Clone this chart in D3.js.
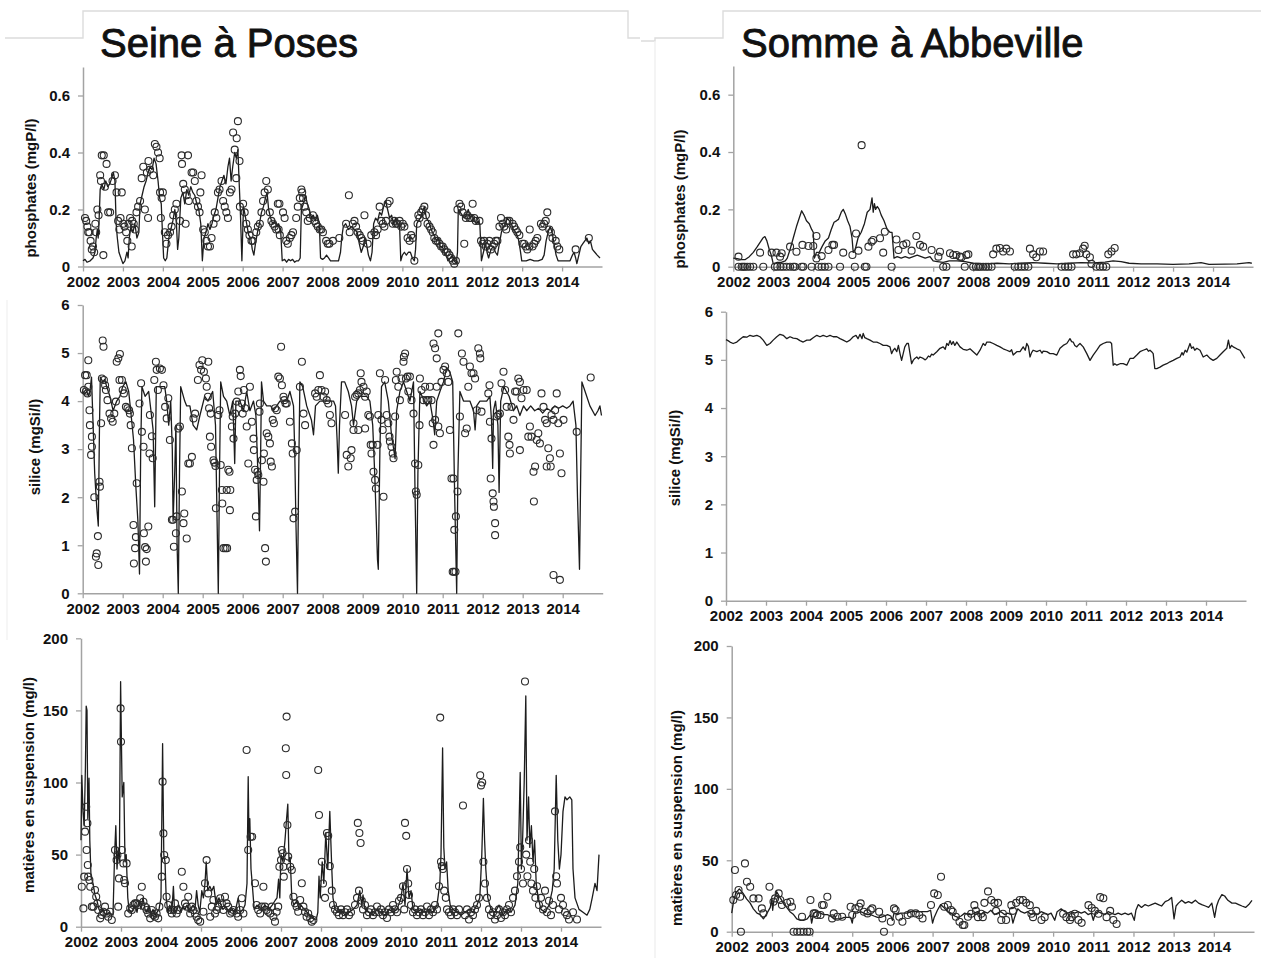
<!DOCTYPE html>
<html>
<head>
<meta charset="utf-8">
<script src="https://cdn.jsdelivr.net/npm/d3@7"></script>
<style>
  body { margin: 0; background: #fff; }
  svg { display: block; }
</style>
</head>
<body>
<svg id="chart" width="1261" height="958"></svg>
<script>
// ---------- tick values ----------
const yearTicks = [2002, 2003, 2004, 2005, 2006, 2007, 2008, 2009, 2010, 2011, 2012, 2013, 2014];
const phosTicks = [0, 0.2, 0.4, 0.6];
const siliceTicks = [0, 1, 2, 3, 4, 5, 6];
const mesTicks = [0, 50, 100, 150, 200];

const stationNames = ["Seine à Poses", "Somme à Abbeville"];
const variableLabels = ["phosphates (mgP/l)", "silice (mgSi/l)", "matières en suspension (mg/l)"];

// ---------- Seine à Poses : phosphates ----------
// simulated (line), [decimal year, mgP/l]
const seinePhosSim = [[2002.0,0.02],[2002.05,0.025],[2002.1,0.015],[2002.18,0.02],[2002.25,0.03],[2002.3,0.05],[2002.33,0.1],[2002.36,0.13],[2002.38,0.1],[2002.4,0.15],[2002.43,0.27],[2002.47,0.29],[2002.52,0.27],[2002.57,0.3],[2002.62,0.28],[2002.67,0.29],[2002.72,0.31],[2002.76,0.33],[2002.8,0.3],[2002.83,0.15],[2002.86,0.1],[2002.9,0.05],[2002.95,0.03],[2003.0,0.01],[2003.05,0.02],[2003.1,0.05],[2003.13,0.03],[2003.16,0.1],[2003.2,0.14],[2003.25,0.12],[2003.3,0.15],[2003.35,0.1],[2003.4,0.12],[2003.43,0.22],[2003.48,0.25],[2003.53,0.28],[2003.58,0.3],[2003.63,0.33],[2003.68,0.35],[2003.73,0.34],[2003.78,0.38],[2003.83,0.36],[2003.88,0.3],[2003.92,0.24],[2003.96,0.22],[2003.99,0.12],[2004.02,0.03],[2004.06,0.02],[2004.1,0.03],[2004.15,0.1],[2004.2,0.13],[2004.25,0.16],[2004.3,0.2],[2004.34,0.15],[2004.37,0.06],[2004.4,0.1],[2004.45,0.24],[2004.5,0.26],[2004.55,0.22],[2004.6,0.27],[2004.65,0.25],[2004.7,0.28],[2004.75,0.26],[2004.8,0.25],[2004.85,0.22],[2004.9,0.2],[2004.95,0.15],[2004.99,0.02],[2005.03,0.1],[2005.08,0.12],[2005.13,0.15],[2005.18,0.13],[2005.23,0.15],[2005.28,0.18],[2005.33,0.2],[2005.38,0.24],[2005.43,0.28],[2005.48,0.3],[2005.53,0.32],[2005.58,0.29],[2005.63,0.35],[2005.67,0.38],[2005.71,0.3],[2005.75,0.35],[2005.8,0.4],[2005.84,0.38],[2005.88,0.41],[2005.91,0.3],[2005.94,0.2],[2005.98,0.02],[2006.02,0.21],[2006.06,0.18],[2006.1,0.15],[2006.15,0.11],[2006.2,0.1],[2006.24,0.06],[2006.28,0.04],[2006.32,0.08],[2006.37,0.12],[2006.42,0.15],[2006.47,0.19],[2006.52,0.21],[2006.57,0.24],[2006.61,0.26],[2006.65,0.2],[2006.7,0.17],[2006.75,0.15],[2006.8,0.16],[2006.85,0.14],[2006.9,0.15],[2006.95,0.13],[2006.99,0.02],[2007.05,0.025],[2007.1,0.015],[2007.15,0.025],[2007.2,0.02],[2007.25,0.025],[2007.3,0.015],[2007.35,0.02],[2007.4,0.02],[2007.44,0.03],[2007.47,0.2],[2007.52,0.22],[2007.57,0.25],[2007.62,0.22],[2007.67,0.2],[2007.72,0.17],[2007.77,0.18],[2007.82,0.16],[2007.87,0.18],[2007.92,0.15],[2007.95,0.03],[2008.0,0.025],[2008.05,0.03],[2008.1,0.04],[2008.15,0.03],[2008.2,0.02],[2008.3,0.02],[2008.4,0.02],[2008.45,0.05],[2008.48,0.1],[2008.52,0.14],[2008.58,0.15],[2008.65,0.13],[2008.72,0.14],[2008.8,0.13],[2008.87,0.12],[2008.92,0.08],[2008.97,0.05],[2009.02,0.07],[2009.06,0.1],[2009.1,0.08],[2009.15,0.04],[2009.2,0.02],[2009.24,0.05],[2009.28,0.15],[2009.33,0.17],[2009.38,0.16],[2009.43,0.19],[2009.48,0.18],[2009.53,0.21],[2009.58,0.23],[2009.63,0.2],[2009.68,0.17],[2009.73,0.18],[2009.78,0.15],[2009.83,0.17],[2009.88,0.15],[2009.93,0.14],[2009.96,0.02],[2010.0,0.04],[2010.05,0.05],[2010.1,0.04],[2010.15,0.05],[2010.2,0.05],[2010.25,0.03],[2010.3,0.02],[2010.33,0.06],[2010.36,0.15],[2010.4,0.16],[2010.45,0.17],[2010.5,0.19],[2010.55,0.21],[2010.6,0.17],[2010.65,0.16],[2010.7,0.14],[2010.75,0.12],[2010.8,0.11],[2010.85,0.09],[2010.9,0.1],[2010.95,0.07],[2011.0,0.07],[2011.05,0.05],[2011.1,0.04],[2011.14,0.02],[2011.2,0.03],[2011.25,0.04],[2011.3,0.02],[2011.35,0.01],[2011.38,0.05],[2011.4,0.2],[2011.45,0.19],[2011.5,0.18],[2011.55,0.17],[2011.6,0.18],[2011.65,0.2],[2011.7,0.17],[2011.75,0.18],[2011.8,0.16],[2011.85,0.15],[2011.9,0.16],[2011.94,0.15],[2011.98,0.02],[2012.03,0.05],[2012.08,0.08],[2012.12,0.05],[2012.16,0.03],[2012.22,0.06],[2012.28,0.07],[2012.33,0.05],[2012.38,0.04],[2012.43,0.08],[2012.48,0.12],[2012.53,0.14],[2012.58,0.15],[2012.63,0.17],[2012.68,0.16],[2012.73,0.15],[2012.78,0.13],[2012.84,0.12],[2012.9,0.1],[2012.95,0.06],[2012.99,0.02],[2013.1,0.02],[2013.2,0.025],[2013.3,0.02],[2013.4,0.02],[2013.5,0.025],[2013.55,0.04],[2013.6,0.09],[2013.65,0.12],[2013.7,0.14],[2013.75,0.12],[2013.8,0.08],[2013.85,0.04],[2013.9,0.02],[2014.0,0.02],[2014.1,0.02],[2014.2,0.02],[2014.26,0.04],[2014.3,0.05],[2014.34,0.03],[2014.37,0.01],[2014.42,0.04],[2014.47,0.07],[2014.52,0.08],[2014.57,0.09],[2014.62,0.1],[2014.67,0.08],[2014.71,0.09],[2014.76,0.06],[2014.82,0.05],[2014.88,0.04],[2014.95,0.03]];

// measured (circles)
const seinePhosObs = [[2002.05,0.17],[2002.08,0.16],[2002.11,0.14],[2002.13,0.12],[2002.16,0.12],[2002.19,0.09],[2002.22,0.06],[2002.25,0.07],[2002.28,0.05],[2002.31,0.15],[2002.33,0.12],[2002.36,0.2],[2002.39,0.18],[2002.43,0.32],[2002.45,0.30],[2002.47,0.39],[2002.51,0.04],[2002.52,0.39],[2002.55,0.28],[2002.59,0.36],[2002.63,0.19],[2002.68,0.19],[2002.74,0.30],[2002.8,0.32],[2002.84,0.26],[2002.88,0.16],[2002.91,0.13],[2002.94,0.17],[2002.97,0.26],[2003.01,0.15],[2003.04,0.14],[2003.08,0.12],[2003.11,0.09],[2003.14,0.15],[2003.18,0.17],[2003.22,0.07],[2003.23,0.16],[2003.27,0.15],[2003.3,0.13],[2003.34,0.19],[2003.38,0.21],[2003.43,0.23],[2003.47,0.31],[2003.51,0.35],[2003.55,0.2],[2003.6,0.33],[2003.63,0.17],[2003.64,0.37],[2003.68,0.34],[2003.76,0.32],[2003.8,0.43],[2003.84,0.42],[2003.88,0.4],[2003.92,0.38],[2003.93,0.26],[2003.95,0.17],[2003.97,0.24],[2004.0,0.26],[2004.05,0.12],[2004.09,0.08],[2004.13,0.11],[2004.18,0.12],[2004.22,0.14],[2004.26,0.18],[2004.3,0.2],[2004.34,0.22],[2004.43,0.16],[2004.47,0.39],[2004.48,0.36],[2004.51,0.29],[2004.55,0.27],[2004.57,0.15],[2004.6,0.25],[2004.63,0.39],[2004.65,0.23],[2004.72,0.33],[2004.76,0.33],[2004.8,0.3],[2004.84,0.23],[2004.88,0.21],[2004.92,0.19],[2004.94,0.26],[2004.97,0.32],[2005.01,0.13],[2005.05,0.12],[2005.09,0.09],[2005.13,0.07],[2005.18,0.07],[2005.22,0.1],[2005.27,0.15],[2005.3,0.19],[2005.34,0.17],[2005.38,0.26],[2005.42,0.27],[2005.47,0.3],[2005.51,0.23],[2005.55,0.21],[2005.59,0.19],[2005.63,0.17],[2005.68,0.26],[2005.72,0.27],[2005.76,0.47],[2005.8,0.41],[2005.84,0.31],[2005.85,0.45],[2005.88,0.51],[2005.92,0.37],[2005.93,0.21],[2006.01,0.22],[2006.05,0.19],[2006.09,0.15],[2006.13,0.13],[2006.17,0.11],[2006.22,0.09],[2006.25,0.09],[2006.34,0.12],[2006.38,0.14],[2006.43,0.15],[2006.47,0.19],[2006.51,0.23],[2006.55,0.26],[2006.59,0.3],[2006.63,0.27],[2006.68,0.19],[2006.72,0.16],[2006.76,0.15],[2006.8,0.14],[2006.84,0.13],[2006.88,0.22],[2006.9,0.13],[2006.93,0.11],[2006.92,0.22],[2007.01,0.19],[2007.05,0.17],[2007.09,0.09],[2007.13,0.08],[2007.18,0.1],[2007.22,0.11],[2007.26,0.12],[2007.34,0.17],[2007.38,0.21],[2007.43,0.24],[2007.47,0.27],[2007.49,0.26],[2007.51,0.24],[2007.55,0.21],[2007.59,0.19],[2007.63,0.16],[2007.68,0.17],[2007.76,0.18],[2007.8,0.16],[2007.84,0.15],[2007.88,0.14],[2007.93,0.13],[2007.97,0.13],[2008.01,0.12],[2008.09,0.09],[2008.13,0.08],[2008.17,0.08],[2008.26,0.09],[2008.42,0.1],[2008.59,0.15],[2008.66,0.25],[2008.68,0.12],[2008.76,0.15],[2008.8,0.16],[2008.84,0.14],[2008.88,0.12],[2008.93,0.11],[2008.97,0.1],[2009.05,0.18],[2009.01,0.09],[2009.13,0.08],[2009.22,0.11],[2009.3,0.12],[2009.34,0.11],[2009.38,0.13],[2009.43,0.21],[2009.47,0.16],[2009.51,0.15],[2009.55,0.14],[2009.59,0.16],[2009.63,0.22],[2009.68,0.23],[2009.76,0.15],[2009.8,0.16],[2009.84,0.15],[2009.88,0.15],[2009.93,0.16],[2009.97,0.14],[2010.01,0.15],[2010.05,0.14],[2010.13,0.1],[2010.18,0.09],[2010.22,0.11],[2010.26,0.1],[2010.3,0.02],[2010.38,0.15],[2010.4,0.18],[2010.43,0.17],[2010.47,0.19],[2010.51,0.2],[2010.55,0.21],[2010.59,0.18],[2010.63,0.15],[2010.68,0.14],[2010.72,0.13],[2010.76,0.12],[2010.8,0.1],[2010.84,0.09],[2010.88,0.09],[2010.93,0.08],[2010.97,0.07],[2011.01,0.07],[2011.05,0.06],[2011.09,0.05],[2011.13,0.05],[2011.18,0.04],[2011.22,0.03],[2011.26,0.02],[2011.3,0.01],[2011.34,0.02],[2011.38,0.2],[2011.43,0.22],[2011.47,0.21],[2011.51,0.19],[2011.55,0.08],[2011.59,0.17],[2011.63,0.18],[2011.68,0.17],[2011.72,0.17],[2011.76,0.22],[2011.8,0.17],[2011.84,0.16],[2011.93,0.16],[2011.97,0.09],[2012.01,0.08],[2012.05,0.09],[2012.09,0.07],[2012.13,0.08],[2012.18,0.09],[2012.22,0.06],[2012.26,0.07],[2012.3,0.08],[2012.34,0.09],[2012.38,0.09],[2012.43,0.14],[2012.47,0.17],[2012.51,0.15],[2012.55,0.14],[2012.6,0.13],[2012.63,0.16],[2012.68,0.16],[2012.76,0.15],[2012.8,0.14],[2012.84,0.13],[2012.88,0.12],[2012.93,0.11],[2013.01,0.08],[2013.05,0.08],[2013.09,0.07],[2013.13,0.06],[2013.18,0.07],[2013.19,0.13],[2013.26,0.07],[2013.3,0.08],[2013.34,0.09],[2013.38,0.1],[2013.47,0.15],[2013.51,0.14],[2013.55,0.15],[2013.59,0.16],[2013.63,0.19],[2013.68,0.13],[2013.72,0.12],[2013.76,0.1],[2013.84,0.09],[2013.88,0.07],[2013.93,0.06],[2014.34,0.06],[2014.67,0.1]];

// ---------- Seine à Poses : silice ----------
const seineSiSim = [[2002.0,4.2],[2002.05,4.15],[2002.1,4.2],[2002.15,4.1],[2002.18,4.2],[2002.22,4.5],[2002.26,3.5],[2002.3,2.5],[2002.35,1.8],[2002.39,1.4],[2002.42,3.5],[2002.44,4.5],[2002.5,4.4],[2002.55,4.45],[2002.6,4.3],[2002.68,4.1],[2002.76,3.8],[2002.85,4.0],[2002.93,4.1],[2003.0,4.3],[2003.08,4.4],[2003.15,4.2],[2003.2,3.8],[2003.27,3.2],[2003.33,2.2],[2003.38,1.5],[2003.42,0.4],[2003.45,3.0],[2003.48,4.3],[2003.56,4.1],[2003.65,4.2],[2003.72,3.7],[2003.76,3.4],[2003.8,1.8],[2003.84,4.3],[2003.92,4.3],[2004.0,4.3],[2004.05,4.3],[2004.1,4.0],[2004.15,3.5],[2004.2,4.0],[2004.24,3.0],[2004.26,1.5],[2004.3,2.5],[2004.33,3.5],[2004.36,1.0],[2004.39,0.0],[2004.42,2.5],[2004.45,4.3],[2004.55,4.0],[2004.6,3.9],[2004.68,3.9],[2004.76,3.5],[2004.85,3.4],[2004.93,3.7],[2005.05,4.1],[2005.13,4.0],[2005.25,4.2],[2005.32,3.5],[2005.36,1.5],[2005.39,0.0],[2005.42,2.5],[2005.45,4.4],[2005.52,4.1],[2005.6,4.0],[2005.68,3.7],[2005.75,4.0],[2005.78,3.3],[2005.8,2.7],[2005.83,4.0],[2005.93,4.0],[2006.02,3.8],[2006.1,4.2],[2006.18,3.8],[2006.27,4.0],[2006.33,3.7],[2006.38,2.5],[2006.42,1.3],[2006.45,3.0],[2006.47,4.4],[2006.52,4.0],[2006.6,3.9],[2006.7,3.9],[2006.77,3.8],[2006.85,3.9],[2006.93,4.0],[2007.1,4.0],[2007.18,4.2],[2007.27,3.9],[2007.3,3.0],[2007.33,1.5],[2007.37,0.0],[2007.4,2.5],[2007.43,4.4],[2007.5,4.3],[2007.6,3.9],[2007.72,3.6],[2007.77,3.3],[2007.82,3.9],[2007.93,4.0],[2008.1,4.0],[2008.27,4.0],[2008.32,3.9],[2008.36,3.2],[2008.39,2.5],[2008.42,3.5],[2008.47,4.4],[2008.55,4.4],[2008.64,4.2],[2008.72,3.9],[2008.77,3.5],[2008.85,4.0],[2008.93,4.1],[2009.1,4.1],[2009.18,4.0],[2009.25,3.5],[2009.3,2.5],[2009.34,1.5],[2009.37,0.7],[2009.39,0.5],[2009.43,3.0],[2009.47,4.3],[2009.55,4.4],[2009.64,4.0],[2009.72,3.3],[2009.81,2.8],[2009.85,3.8],[2009.93,4.2],[2010.02,4.4],[2010.1,4.2],[2010.18,4.0],[2010.27,4.4],[2010.31,2.0],[2010.35,0.0],[2010.38,2.5],[2010.43,4.2],[2010.6,3.9],[2010.68,4.0],[2010.76,3.6],[2010.8,3.3],[2010.85,4.0],[2010.93,4.2],[2011.02,4.4],[2011.1,4.7],[2011.18,4.6],[2011.25,4.4],[2011.3,2.0],[2011.35,0.0],[2011.38,2.5],[2011.43,4.2],[2011.52,4.0],[2011.68,4.0],[2011.77,3.8],[2011.81,3.4],[2011.85,3.9],[2011.93,4.0],[2012.1,4.0],[2012.18,4.1],[2012.22,3.6],[2012.25,2.6],[2012.27,3.8],[2012.32,4.0],[2012.38,3.5],[2012.41,2.1],[2012.45,4.0],[2012.53,4.3],[2012.66,4.1],[2012.77,3.8],[2012.85,3.9],[2012.93,3.7],[2013.02,3.9],[2013.1,3.8],[2013.2,3.9],[2013.3,3.8],[2013.4,3.85],[2013.5,3.75],[2013.6,3.85],[2013.7,3.8],[2013.8,3.9],[2013.9,3.85],[2014.0,3.9],[2014.1,3.85],[2014.18,3.9],[2014.26,4.0],[2014.33,3.5],[2014.37,2.0],[2014.42,0.5],[2014.45,2.5],[2014.48,4.4],[2014.56,4.2],[2014.68,3.9],[2014.81,3.7],[2014.88,3.8],[2014.93,3.9],[2014.97,3.7]];

const seineSiObs = [[2002.06,4.54],[2002.03,4.23],[2002.08,4.2],[2002.12,4.16],[2002.14,4.3],[2002.1,4.54],[2002.14,4.85],[2002.17,3.81],[2002.18,3.5],[2002.23,3.26],[2002.23,3.05],[2002.21,2.88],[2002.29,2.0],[2002.38,1.19],[2002.33,0.76],[2002.35,0.83],[2002.39,0.59],[2002.42,2.32],[2002.43,2.22],[2002.46,3.54],[2002.48,4.47],[2002.5,5.26],[2002.52,5.13],[2002.53,4.44],[2002.56,4.33],[2002.58,4.23],[2002.62,4.02],[2002.67,3.74],[2002.71,3.64],[2002.75,3.57],[2002.79,3.74],[2002.83,3.99],[2002.85,4.82],[2002.89,4.89],[2002.93,4.98],[2002.92,4.44],[2002.98,4.44],[2003.0,4.23],[2003.03,4.16],[2003.08,3.88],[2003.12,3.85],[2003.16,3.81],[2003.18,3.74],[2003.2,3.5],[2003.23,3.02],[2003.27,1.42],[2003.28,0.62],[2003.31,0.94],[2003.33,1.17],[2003.35,2.29],[2003.42,3.95],[2003.46,4.37],[2003.48,3.36],[2003.52,3.05],[2003.53,1.25],[2003.56,0.96],[2003.58,0.66],[2003.6,0.92],[2003.64,1.39],[2003.67,2.91],[2003.68,3.71],[2003.73,3.27],[2003.75,2.81],[2003.79,4.44],[2003.83,4.82],[2003.85,4.65],[2003.88,4.23],[2003.93,4.68],[2003.98,4.65],[2004.02,4.33],[2004.06,3.88],[2004.1,3.64],[2004.14,4.06],[2004.18,3.19],[2004.23,1.53],[2004.26,1.53],[2004.28,0.97],[2004.33,1.25],[2004.35,1.6],[2004.39,3.43],[2004.43,3.47],[2004.48,2.12],[2004.52,1.46],[2004.54,1.66],[2004.6,1.14],[2004.64,2.7],[2004.68,2.7],[2004.73,2.84],[2004.77,3.64],[2004.81,3.74],[2004.88,4.44],[2004.92,4.75],[2004.96,4.65],[2004.99,4.85],[2005.03,4.61],[2005.08,4.47],[2005.1,4.3],[2005.14,4.82],[2005.13,4.09],[2005.16,3.85],[2005.2,3.74],[2005.18,3.26],[2005.21,3.05],[2005.27,2.77],[2005.29,2.72],[2005.32,2.65],[2005.33,1.77],[2005.39,3.71],[2005.42,3.81],[2005.45,2.67],[2005.48,2.15],[2005.49,1.87],[2005.52,0.94],[2005.57,0.94],[2005.61,0.94],[2005.6,2.15],[2005.64,2.57],[2005.67,2.53],[2005.69,2.15],[2005.68,1.73],[2005.73,3.47],[2005.75,3.68],[2005.77,3.22],[2005.81,3.74],[2005.85,3.99],[2005.89,4.2],[2005.93,4.65],[2005.95,4.52],[2005.98,3.95],[2006.0,3.74],[2006.03,4.23],[2006.06,3.85],[2006.1,3.47],[2006.14,2.7],[2006.18,4.3],[2006.23,3.57],[2006.27,3.22],[2006.28,2.98],[2006.31,2.57],[2006.33,1.6],[2006.35,2.36],[2006.37,2.53],[2006.39,2.46],[2006.42,3.78],[2006.43,3.95],[2006.48,2.77],[2006.52,2.32],[2006.53,2.91],[2006.56,0.94],[2006.58,0.66],[2006.6,3.33],[2006.64,3.26],[2006.68,3.12],[2006.7,2.74],[2006.73,2.64],[2006.75,3.61],[2006.78,3.54],[2006.81,3.85],[2006.85,3.81],[2006.89,4.51],[2006.93,4.47],[2006.96,5.13],[2006.98,4.33],[2007.02,4.09],[2007.04,4.02],[2007.07,3.95],[2007.1,3.95],[2007.18,3.57],[2007.23,3.12],[2007.25,2.91],[2007.27,1.56],[2007.31,1.7],[2007.35,2.98],[2007.43,4.3],[2007.48,4.82],[2007.52,3.74],[2007.56,3.5],[2007.81,4.16],[2007.85,4.09],[2007.89,4.23],[2007.93,4.54],[2007.97,4.23],[2008.02,4.09],[2008.06,4.2],[2008.1,4.02],[2008.14,3.95],[2008.18,3.71],[2008.22,3.54],[2008.56,3.71],[2008.6,2.88],[2008.64,2.64],[2008.7,2.81],[2008.72,2.98],[2008.77,3.54],[2008.81,4.09],[2008.85,4.13],[2008.89,4.16],[2008.93,4.23],[2008.97,4.4],[2008.95,4.58],[2009.02,4.3],[2009.06,4.09],[2009.1,4.2],[2009.14,3.71],[2009.06,3.43],[2008.89,3.4],[2008.77,3.4],[2009.18,3.68],[2009.2,3.09],[2009.22,2.91],[2009.25,3.09],[2009.27,2.53],[2009.31,2.36],[2009.33,2.18],[2009.37,3.09],[2009.39,3.71],[2009.43,4.58],[2009.47,3.61],[2009.5,3.4],[2009.52,2.01],[2009.56,4.44],[2009.6,3.71],[2009.64,3.54],[2009.67,3.26],[2009.68,3.16],[2009.72,3.05],[2009.75,2.91],[2009.77,2.81],[2009.81,3.68],[2009.83,4.44],[2009.85,4.61],[2009.89,4.3],[2009.93,4.02],[2009.97,4.47],[2010.02,4.82],[2010.06,4.99],[2010.03,4.92],[2010.08,4.47],[2010.12,4.51],[2010.14,4.2],[2010.18,4.51],[2010.22,4.02],[2010.27,3.74],[2010.31,2.7],[2010.33,2.12],[2010.35,2.05],[2010.39,2.67],[2010.42,3.5],[2010.43,4.47],[2010.47,4.23],[2010.52,4.02],[2010.56,4.3],[2010.6,4.02],[2010.64,4.02],[2010.68,4.3],[2010.72,4.02],[2010.75,3.54],[2010.77,3.09],[2010.81,3.61],[2010.85,4.3],[2010.89,3.47],[2010.93,3.33],[2010.97,4.4],[2011.02,4.65],[2011.06,4.72],[2011.1,4.58],[2010.77,5.2],[2010.81,5.1],[2010.89,5.41],[2010.85,4.89],[2011.14,4.4],[2011.18,3.4],[2011.22,2.39],[2011.27,2.39],[2011.29,1.32],[2011.25,0.45],[2011.28,0.45],[2011.32,0.45],[2011.33,1.6],[2011.37,2.12],[2011.39,5.41],[2011.43,3.68],[2011.48,4.99],[2011.52,4.82],[2011.56,3.33],[2011.6,3.43],[2011.64,4.3],[2011.68,4.72],[2011.72,4.58],[2011.77,4.58],[2011.81,4.47],[2011.85,3.81],[2011.89,5.1],[2011.93,4.99],[2011.94,4.89],[2011.97,3.78],[2012.14,4.16],[2012.17,4.33],[2012.18,3.57],[2012.22,3.22],[2012.2,2.39],[2012.25,2.08],[2012.27,1.91],[2012.28,1.8],[2012.31,1.46],[2012.31,1.21],[2012.35,3.68],[2012.39,3.71],[2012.43,3.74],[2012.47,4.37],[2012.52,4.61],[2012.56,4.23],[2012.6,3.88],[2012.64,3.26],[2012.67,3.09],[2012.68,2.91],[2012.72,3.88],[2012.77,3.61],[2012.81,4.2],[2012.85,4.2],[2012.89,4.47],[2012.93,4.4],[2012.97,4.06],[2013.02,4.23],[2013.1,4.23],[2012.93,2.98],[2013.14,3.26],[2013.18,3.47],[2013.22,3.26],[2013.27,2.53],[2013.28,1.91],[2013.31,2.64],[2013.35,3.19],[2013.39,3.33],[2013.43,3.12],[2013.47,4.16],[2013.52,3.88],[2013.56,3.61],[2013.6,3.54],[2013.64,3.02],[2013.68,2.81],[2013.7,2.64],[2013.6,2.64],[2013.72,3.71],[2013.77,3.61],[2013.81,3.81],[2013.85,4.16],[2013.89,3.54],[2013.93,2.91],[2013.97,2.5],[2013.77,0.38],[2013.93,0.28],[2014.02,3.61],[2014.35,3.36],[2014.7,4.49]];

// ---------- Seine à Poses : matières en suspension ----------
const seineMesSim = [[2002.0,60],[2002.02,105],[2002.05,80],[2002.08,70],[2002.11,110],[2002.13,153],[2002.15,150],[2002.17,75],[2002.2,103],[2002.22,60],[2002.25,35],[2002.3,30],[2002.35,22],[2002.4,18],[2002.45,12],[2002.5,10],[2002.55,12],[2002.6,9],[2002.65,8],[2002.7,10],[2002.75,9],[2002.8,8],[2002.84,50],[2002.87,70],[2002.9,40],[2002.93,53],[2002.96,45],[2002.99,170],[2003.03,90],[2003.07,100],[2003.1,45],[2003.13,50],[2003.17,20],[2003.2,12],[2003.25,10],[2003.3,12],[2003.35,15],[2003.4,10],[2003.45,18],[2003.5,12],[2003.55,20],[2003.6,12],[2003.65,10],[2003.7,15],[2003.75,8],[2003.8,12],[2003.85,8],[2003.9,10],[2003.95,12],[2004.0,20],[2004.04,127],[2004.07,50],[2004.1,45],[2004.13,20],[2004.17,10],[2004.22,15],[2004.27,10],[2004.31,28],[2004.34,10],[2004.4,12],[2004.45,15],[2004.5,10],[2004.55,14],[2004.6,12],[2004.65,15],[2004.7,10],[2004.75,12],[2004.8,15],[2004.85,12],[2004.89,25],[2004.93,15],[2004.97,10],[2005.02,25],[2005.06,20],[2005.1,30],[2005.13,45],[2005.17,25],[2005.22,28],[2005.27,25],[2005.32,28],[2005.38,15],[2005.45,20],[2005.5,15],[2005.55,12],[2005.62,14],[2005.7,10],[2005.78,12],[2005.85,10],[2005.93,20],[2005.98,10],[2006.05,12],[2006.1,15],[2006.15,30],[2006.18,104],[2006.2,60],[2006.22,75],[2006.25,40],[2006.28,30],[2006.33,12],[2006.4,15],[2006.5,12],[2006.6,15],[2006.7,12],[2006.78,15],[2006.85,18],[2006.9,20],[2006.94,33],[2006.97,20],[2007.0,50],[2007.05,45],[2007.1,60],[2007.14,75],[2007.17,85],[2007.2,45],[2007.23,48],[2007.27,20],[2007.32,15],[2007.4,18],[2007.45,12],[2007.5,15],[2007.58,12],[2007.65,10],[2007.72,8],[2007.8,6],[2007.88,5],[2007.92,10],[2007.95,35],[2007.98,20],[2008.03,45],[2008.07,30],[2008.12,65],[2008.17,40],[2008.22,80],[2008.27,40],[2008.3,20],[2008.35,12],[2008.42,10],[2008.5,12],[2008.6,8],[2008.7,10],[2008.8,12],[2008.9,15],[2008.97,25],[2009.02,15],[2009.05,22],[2009.1,12],[2009.2,10],[2009.3,8],[2009.4,12],[2009.5,10],[2009.6,8],[2009.7,12],[2009.8,10],[2009.9,12],[2010.0,20],[2010.05,30],[2010.1,15],[2010.15,40],[2010.2,20],[2010.25,25],[2010.3,12],[2010.4,10],[2010.5,12],[2010.6,10],[2010.7,12],[2010.8,10],[2010.9,15],[2010.97,30],[2011.0,50],[2011.04,124],[2011.07,55],[2011.1,40],[2011.14,45],[2011.18,25],[2011.23,15],[2011.3,12],[2011.4,10],[2011.5,8],[2011.6,10],[2011.7,12],[2011.8,10],[2011.9,15],[2011.97,20],[2012.02,50],[2012.06,89],[2012.09,60],[2012.12,40],[2012.17,20],[2012.25,12],[2012.35,10],[2012.45,15],[2012.55,8],[2012.65,12],[2012.75,10],[2012.85,15],[2012.92,30],[2012.98,107],[2013.01,40],[2013.04,60],[2013.08,100],[2013.12,160],[2013.15,60],[2013.19,90],[2013.22,55],[2013.26,70],[2013.3,45],[2013.34,60],[2013.38,30],[2013.43,20],[2013.5,12],[2013.6,10],[2013.7,15],[2013.78,25],[2013.83,40],[2013.88,105],[2013.92,60],[2013.96,40],[2014.0,50],[2014.05,80],[2014.1,90],[2014.15,88],[2014.22,90],[2014.27,88],[2014.3,40],[2014.35,20],[2014.45,12],[2014.55,10],[2014.65,8],[2014.72,12],[2014.78,20],[2014.85,30],[2014.9,25],[2014.95,50]];

const seineMesObs = [[2002.02,27.7],[2002.06,12.7],[2002.08,34.7],[2002.1,65.9],[2002.13,83.2],[2002.16,71.7],[2002.14,53.2],[2002.17,42.8],[2002.18,34.7],[2002.21,32.4],[2002.23,27.7],[2002.27,13.9],[2002.31,13.9],[2002.35,25.4],[2002.38,20.8],[2002.41,16.2],[2002.43,11.6],[2002.48,5.8],[2002.52,8.1],[2002.56,10.4],[2002.6,13.9],[2002.64,9.2],[2002.68,6.9],[2002.73,10.4],[2002.77,4.6],[2002.85,53.2],[2002.89,46.2],[2002.91,49.7],[2002.93,13.9],[2002.95,33.5],[2002.99,151.4],[2003.0,128.3],[2003.02,53.2],[2003.06,43.9],[2003.08,32.4],[2003.1,30.1],[2003.14,43.9],[2003.18,9.2],[2003.23,12.7],[2003.27,11.6],[2003.31,15],[2003.35,16.2],[2003.39,16.2],[2003.43,15],[2003.48,19.7],[2003.52,27.7],[2003.56,17.3],[2003.6,13.9],[2003.64,11.6],[2003.68,9.2],[2003.73,5.8],[2003.77,11.6],[2003.81,8.1],[2003.85,6.9],[2003.89,9.2],[2003.93,5.8],[2003.96,13.9],[2004.02,34.7],[2004.04,100.6],[2004.06,64.7],[2004.08,49.7],[2004.12,46.2],[2004.14,20.8],[2004.18,15],[2004.23,11.6],[2004.27,9.2],[2004.31,11.6],[2004.35,16.2],[2004.39,9.2],[2004.43,11.6],[2004.52,38.1],[2004.56,27.7],[2004.6,16.2],[2004.64,13.9],[2004.68,20.8],[2004.73,9.2],[2004.77,13.9],[2004.81,11.6],[2004.85,9.2],[2004.89,6.9],[2004.93,4.6],[2004.98,3.5],[2005.06,10.4],[2005.1,30.1],[2005.14,46.2],[2005.18,23.1],[2005.23,6.9],[2005.27,13.9],[2005.31,18.5],[2005.35,9.2],[2005.39,11.6],[2005.43,13.9],[2005.48,19.7],[2005.52,16.2],[2005.56,11.6],[2005.6,20.8],[2005.64,16.2],[2005.68,13.9],[2005.73,9.2],[2005.77,10.4],[2005.81,11.6],[2005.89,9.2],[2005.93,6.9],[2005.98,11.6],[2006.02,19.7],[2006.06,9.2],[2006.14,122.5],[2006.18,53.2],[2006.24,62.4],[2006.28,62.4],[2006.35,30.1],[2006.39,15],[2006.43,11.6],[2006.48,9.2],[2006.52,13.9],[2006.56,27.7],[2006.6,13.9],[2006.64,11.6],[2006.68,10.4],[2006.73,9.2],[2006.77,13.9],[2006.81,6.9],[2006.85,3.5],[2006.89,10.4],[2006.93,13.9],[2006.96,41.6],[2007.0,46.2],[2007.02,53.2],[2007.04,50.9],[2007.06,41.6],[2007.07,34.7],[2007.12,123.7],[2007.14,145.7],[2007.13,105.2],[2007.16,70.5],[2007.18,48.6],[2007.23,41.6],[2007.27,39.3],[2007.31,20.8],[2007.35,16.2],[2007.39,13.9],[2007.43,10.4],[2007.48,18.5],[2007.52,30.1],[2007.56,13.9],[2007.6,10.4],[2007.64,6.9],[2007.68,9.2],[2007.73,5.8],[2007.77,3.5],[2007.81,4.6],[2007.93,108.7],[2007.95,77.5],[2008.02,45],[2008.05,30],[2008.1,20],[2008.15,65],[2008.18,63],[2008.22,42],[2008.27,25],[2008.3,15],[2008.35,12],[2008.4,10],[2008.45,8],[2008.5,12],[2008.55,8],[2008.6,10],[2008.65,12],[2008.7,8],[2008.75,10],[2008.92,72],[2008.96,65],[2008.99,58],[2008.85,15],[2008.9,20],[2008.95,25],[2009.02,18],[2009.05,12],[2009.1,15],[2009.15,8],[2009.2,10],[2009.25,12],[2009.3,8],[2009.35,10],[2009.4,14],[2009.45,10],[2009.5,12],[2009.55,8],[2009.6,10],[2009.65,6],[2009.7,12],[2009.75,10],[2009.8,15],[2009.85,12],[2009.9,10],[2009.95,18],[2010.0,20],[2010.05,28],[2010.08,12],[2010.1,72],[2010.13,63],[2010.15,40],[2010.18,30],[2010.2,22],[2010.25,15],[2010.3,10],[2010.35,12],[2010.4,8],[2010.45,10],[2010.5,12],[2010.55,8],[2010.6,10],[2010.65,14],[2010.7,8],[2010.75,12],[2010.8,10],[2010.85,15],[2010.9,12],[2010.95,28],[2010.98,145],[2011.0,45],[2011.02,42],[2011.05,40],[2011.08,25],[2011.12,20],[2011.15,12],[2011.2,10],[2011.25,8],[2011.3,12],[2011.35,10],[2011.4,8],[2011.45,12],[2011.55,84],[2011.6,8],[2011.65,12],[2011.7,5],[2011.75,10],[2011.8,8],[2011.85,12],[2011.9,15],[2011.95,20],[2011.98,105],[2012.0,98],[2012.03,100],[2012.06,45],[2012.1,30],[2012.15,20],[2012.2,12],[2012.25,8],[2012.3,10],[2012.35,5],[2012.4,8],[2012.45,12],[2012.5,6],[2012.55,10],[2012.6,8],[2012.65,12],[2012.7,15],[2012.75,10],[2012.8,20],[2012.85,25],[2012.9,35],[2012.95,45],[2012.98,55],[2013.0,40],[2013.05,30],[2013.1,170],[2013.13,50],[2013.16,35],[2013.2,60],[2013.23,45],[2013.26,30],[2013.3,25],[2013.33,40],[2013.36,20],[2013.4,28],[2013.45,15],[2013.5,20],[2013.55,12],[2013.6,25],[2013.65,10],[2013.7,18],[2013.75,8],[2013.8,15],[2013.85,80],[2013.88,35],[2013.9,30],[2013.95,12],[2014.0,20],[2014.05,15],[2014.1,10],[2014.15,8],[2014.2,5],[2014.3,10],[2014.4,5]];

// ---------- Somme à Abbeville : phosphates ----------
const sommePhosSim = [[2002.0,0.03],[2002.1,0.028],[2002.2,0.025],[2002.3,0.025],[2002.4,0.035],[2002.5,0.05],[2002.6,0.07],[2002.67,0.085],[2002.74,0.1],[2002.79,0.105],[2002.84,0.09],[2002.9,0.06],[2002.95,0.04],[2003.0,0.01],[2003.1,0.015],[2003.2,0.015],[2003.3,0.02],[2003.35,0.03],[2003.42,0.06],[2003.5,0.1],[2003.58,0.14],[2003.65,0.17],[2003.71,0.195],[2003.77,0.18],[2003.83,0.16],[2003.9,0.15],[2003.96,0.13],[2004.0,0.12],[2004.03,0.03],[2004.08,0.05],[2004.15,0.05],[2004.22,0.07],[2004.3,0.09],[2004.38,0.1],[2004.45,0.13],[2004.52,0.155],[2004.58,0.16],[2004.63,0.165],[2004.7,0.19],[2004.75,0.2],[2004.8,0.185],[2004.86,0.16],[2004.92,0.14],[2004.97,0.1],[2005.0,0.05],[2005.05,0.06],[2005.12,0.1],[2005.2,0.12],[2005.28,0.15],[2005.35,0.19],[2005.42,0.2],[2005.47,0.24],[2005.5,0.19],[2005.53,0.22],[2005.56,0.2],[2005.6,0.21],[2005.65,0.2],[2005.7,0.18],[2005.77,0.16],[2005.85,0.13],[2005.92,0.12],[2005.97,0.12],[2006.02,0.03],[2006.1,0.035],[2006.2,0.03],[2006.3,0.035],[2006.4,0.03],[2006.5,0.035],[2006.6,0.04],[2006.7,0.035],[2006.8,0.03],[2006.92,0.035],[2007.0,0.02],[2007.1,0.018],[2007.25,0.015],[2007.4,0.02],[2007.6,0.02],[2007.8,0.018],[2008.0,0.012],[2008.3,0.01],[2008.6,0.012],[2008.9,0.01],[2009.2,0.012],[2009.5,0.014],[2009.8,0.012],[2010.1,0.01],[2010.4,0.012],[2010.7,0.014],[2011.0,0.013],[2011.3,0.016],[2011.5,0.02],[2011.7,0.018],[2011.9,0.012],[2012.2,0.01],[2012.6,0.01],[2013.0,0.008],[2013.4,0.01],[2013.7,0.014],[2013.9,0.008],[2014.3,0.009],[2014.6,0.01],[2014.9,0.014],[2014.97,0.012]];

const sommePhosObs = [[2002.13,0],[2002.21,0],[2002.25,0],[2002.29,0],[2002.35,0],[2002.42,0],[2002.5,0],[2002.75,0],[2003.04,0],[2003.1,0],[2003.18,0],[2003.25,0],[2003.33,0],[2003.42,0],[2003.5,0],[2003.54,0],[2003.71,0],[2003.75,0],[2003.96,0],[2004.13,0],[2004.21,0],[2004.29,0],[2004.38,0],[2004.67,0],[2005.04,0],[2005.29,0],[2005.33,0],[2005.96,0],[2007.25,0],[2007.33,0],[2002.13,0.035],[2002.67,0.049],[2002.96,0.049],[2003.08,0.049],[2003.17,0.035],[2003.21,0.047],[2003.42,0.07],[2003.58,0.052],[2003.73,0.076],[2003.88,0.072],[2004.0,0.072],[2004.08,0.107],[2004.08,0.029],[2004.21,0.037],[2004.38,0.058],[2004.48,0.076],[2004.52,0.076],[2004.75,0.049],[2004.98,0.041],[2005.07,0.116],[2005.13,0.056],[2005.21,0.424],[2005.38,0.07],[2005.46,0.087],[2005.5,0.093],[2005.67,0.099],[2005.75,0.049],[2005.79,0.122],[2006.08,0.095],[2006.13,0.058],[2006.25,0.076],[2006.33,0.081],[2006.46,0.056],[2006.58,0.107],[2006.67,0.076],[2006.75,0.07],[2006.96,0.058],[2007.17,0.052],[2007.13,0.035],[2007.42,0.047],[2007.5,0.041],[2007.58,0.041],[2007.67,0.035],[2007.83,0.041],[2007.79,0],[2008.0,0],[2008.07,0],[2008.13,0],[2008.18,0],[2008.25,0],[2008.32,0],[2008.38,0],[2008.46,0],[2009.04,0],[2009.13,0],[2009.21,0],[2009.29,0],[2009.38,0],[2010.21,0],[2010.3,0],[2010.38,0],[2010.46,0],[2011.08,0],[2011.17,0],[2011.25,0],[2011.33,0],[2007.71,0.033],[2007.88,0.043],[2008.5,0.043],[2008.58,0.063],[2008.67,0.065],[2008.75,0.053],[2008.83,0.063],[2008.92,0.053],[2009.42,0.063],[2009.5,0.043],[2009.58,0.033],[2009.67,0.053],[2009.75,0.053],[2010.5,0.043],[2010.58,0.043],[2010.67,0.047],[2010.75,0.063],[2010.79,0.073],[2010.83,0.043],[2010.92,0.033],[2010.96,0.01],[2011.38,0.043],[2011.46,0.053],[2011.54,0.065]];

// ---------- Somme à Abbeville : silice (simulated only) ----------
const sommeSiSim = [[2002.0,5.42],[2002.05,5.4],[2002.1,5.37],[2002.18,5.34],[2002.27,5.37],[2002.35,5.43],[2002.43,5.48],[2002.52,5.47],[2002.6,5.51],[2002.68,5.49],[2002.77,5.51],[2002.85,5.48],[2002.93,5.41],[2003.02,5.3],[2003.1,5.34],[2003.18,5.41],[2003.27,5.48],[2003.35,5.53],[2003.43,5.51],[2003.52,5.44],[2003.6,5.48],[2003.68,5.45],[2003.77,5.44],[2003.85,5.4],[2003.93,5.37],[2004.02,5.41],[2004.1,5.41],[2004.18,5.46],[2004.27,5.51],[2004.35,5.48],[2004.43,5.51],[2004.52,5.48],[2004.6,5.51],[2004.68,5.48],[2004.77,5.48],[2004.85,5.44],[2004.93,5.41],[2005.02,5.37],[2005.1,5.41],[2005.18,5.48],[2005.25,5.51],[2005.3,5.44],[2005.35,5.53],[2005.4,5.44],[2005.43,5.55],[2005.47,5.46],[2005.52,5.44],[2005.6,5.41],[2005.68,5.37],[2005.77,5.37],[2005.85,5.34],[2005.93,5.3],[2006.02,5.3],[2006.1,5.27],[2006.14,5.13],[2006.18,5.2],[2006.22,5.24],[2006.27,5.17],[2006.31,5.3],[2006.35,5.13],[2006.39,4.99],[2006.43,5.13],[2006.47,5.27],[2006.52,5.34],[2006.56,5.34],[2006.6,5.13],[2006.64,4.92],[2006.68,4.99],[2006.72,5.03],[2006.77,5.06],[2006.81,5.02],[2006.85,5.06],[2006.93,5.03],[2006.98,5.0],[2007.02,5.03],[2007.06,5.08],[2007.1,5.06],[2007.14,5.12],[2007.18,5.1],[2007.27,5.17],[2007.35,5.24],[2007.43,5.27],[2007.48,5.22],[2007.52,5.34],[2007.56,5.3],[2007.6,5.4],[2007.64,5.32],[2007.68,5.38],[2007.72,5.3],[2007.77,5.37],[2007.85,5.27],[2007.93,5.22],[2008.02,5.2],[2008.1,5.23],[2008.18,5.17],[2008.27,5.1],[2008.35,5.2],[2008.43,5.34],[2008.48,5.3],[2008.52,5.37],[2008.6,5.37],[2008.68,5.34],[2008.77,5.3],[2008.85,5.27],[2008.93,5.23],[2009.02,5.2],[2009.1,5.17],[2009.14,5.21],[2009.18,5.1],[2009.27,5.17],[2009.35,5.17],[2009.43,5.27],[2009.48,5.2],[2009.52,5.34],[2009.56,5.28],[2009.6,5.06],[2009.64,5.15],[2009.68,5.2],[2009.77,5.17],[2009.85,5.2],[2009.9,5.14],[2009.93,5.18],[2010.02,5.17],[2010.1,5.13],[2010.18,5.13],[2010.27,5.1],[2010.35,5.24],[2010.43,5.3],[2010.52,5.34],[2010.6,5.44],[2010.64,5.38],[2010.68,5.37],[2010.72,5.3],[2010.77,5.27],[2010.81,5.31],[2010.85,5.34],[2010.93,5.27],[2011.02,5.13],[2011.1,4.99],[2011.18,5.1],[2011.27,5.2],[2011.35,5.3],[2011.43,5.34],[2011.52,5.37],[2011.6,5.37],[2011.64,5.34],[2011.68,4.89],[2011.72,4.92],[2011.77,4.89],[2011.85,4.92],[2011.93,4.92],[2012.02,4.89],[2012.1,5.03],[2012.18,5.03],[2012.27,5.1],[2012.35,5.17],[2012.43,5.2],[2012.52,5.23],[2012.56,5.18],[2012.6,5.2],[2012.64,5.17],[2012.68,5.13],[2012.72,4.82],[2012.77,4.82],[2012.85,4.85],[2012.93,4.89],[2013.02,4.92],[2013.1,4.96],[2013.18,4.99],[2013.27,5.03],[2013.35,5.06],[2013.4,5.15],[2013.43,5.1],[2013.48,5.2],[2013.52,5.16],[2013.6,5.34],[2013.64,5.24],[2013.68,5.27],[2013.72,5.2],[2013.77,5.24],[2013.85,5.2],[2013.93,5.06],[2014.02,5.1],[2014.1,5.03],[2014.18,4.99],[2014.27,5.03],[2014.35,5.1],[2014.43,5.17],[2014.52,5.24],[2014.56,5.41],[2014.6,5.24],[2014.64,5.3],[2014.68,5.27],[2014.77,5.23],[2014.85,5.2],[2014.9,5.13],[2014.97,5.03]];

// ---------- Somme à Abbeville : matières en suspension ----------
const sommeMesSim = [[2002.0,13],[2002.04,20],[2002.1,27],[2002.19,30],[2002.28,27],[2002.37,23],[2002.46,20],[2002.54,16],[2002.63,13],[2002.71,12],[2002.79,9],[2002.88,13],[2002.96,17],[2003.0,23],[2003.02,15],[2003.05,22],[2003.12,28],[2003.2,24],[2003.29,20],[2003.37,17],[2003.45,14],[2003.54,12],[2003.62,9],[2003.71,8],[2003.8,8],[2003.88,9],[2003.96,12],[2003.99,6],[2004.04,13],[2004.12,14],[2004.21,13],[2004.29,12],[2004.38,12],[2004.46,11],[2004.54,9],[2004.63,9],[2004.71,9],[2004.8,10],[2004.88,10],[2004.96,10],[2005.0,6],[2005.04,13],[2005.12,13],[2005.21,14],[2005.29,13],[2005.38,12],[2005.46,12],[2005.54,11],[2005.63,10],[2005.71,10],[2005.8,11],[2005.88,12],[2005.96,11],[2006.0,8],[2006.04,13],[2006.12,12],[2006.21,13],[2006.29,13],[2006.38,13],[2006.46,14],[2006.54,14],[2006.63,14],[2006.71,14],[2006.8,14],[2006.87,14],[2006.95,15],[2007.0,6],[2007.04,10],[2007.12,15],[2007.2,19],[2007.28,17],[2007.37,14],[2007.46,13],[2007.55,11],[2007.63,10],[2007.71,11],[2007.8,13],[2007.88,12],[2007.96,12],[2008.04,13],[2008.12,14],[2008.2,12],[2008.28,14],[2008.37,13],[2008.45,15],[2008.54,12],[2008.62,13],[2008.7,14],[2008.79,12],[2008.87,13],[2008.96,12],[2009.0,6],[2009.04,10],[2009.12,16],[2009.2,14],[2009.29,13],[2009.37,14],[2009.45,12],[2009.54,13],[2009.62,12],[2009.7,14],[2009.79,13],[2009.87,12],[2009.95,13],[2010.04,8],[2010.1,14],[2010.2,16],[2010.29,14],[2010.37,13],[2010.45,14],[2010.54,13],[2010.62,14],[2010.7,13],[2010.79,14],[2010.87,12],[2010.95,13],[2011.0,8],[2011.05,13],[2011.12,14],[2011.2,13],[2011.29,12],[2011.37,14],[2011.45,13],[2011.54,12],[2011.62,13],[2011.7,12],[2011.79,13],[2011.87,12],[2011.95,13],[2012.02,8],[2012.06,15],[2012.12,19],[2012.2,17],[2012.29,19],[2012.37,18],[2012.45,19],[2012.54,20],[2012.62,19],[2012.7,18],[2012.79,21],[2012.87,22],[2012.95,24],[2013.01,9],[2013.06,18],[2013.12,20],[2013.2,22],[2013.29,20],[2013.37,21],[2013.45,20],[2013.54,22],[2013.62,20],[2013.7,19],[2013.79,18],[2013.87,17],[2013.95,20],[2014.02,10],[2014.07,18],[2014.12,22],[2014.2,26],[2014.27,25],[2014.35,22],[2014.45,20],[2014.54,20],[2014.62,19],[2014.7,18],[2014.79,17],[2014.87,19],[2014.95,22]];

const sommeMesObs = [[2002.08,43.2],[2002.04,22.2],[2002.11,25.7],[2002.17,29.2],[2002.21,24.5],[2002.23,0],[2002.33,47.8],[2002.38,35],[2002.46,31.5],[2002.54,23.3],[2002.67,23.3],[2002.75,16.3],[2002.79,12.8],[2002.94,31.5],[2003.04,21],[2003.08,23.3],[2003.17,26.8],[2003.21,22.2],[2003.25,18.7],[2003.38,20.3],[2003.46,21],[2003.5,17.5],[2003.54,0],[2003.63,0],[2003.71,0],[2003.79,0],[2003.88,0],[2003.94,0],[2003.75,10.5],[2003.96,22.2],[2004.04,12.8],[2004.08,12.8],[2004.13,11.7],[2004.21,11.7],[2004.25,18.7],[2004.29,18.7],[2004.38,24.5],[2004.5,9.3],[2004.54,12.8],[2004.63,10.5],[2004.75,10.5],[2004.96,17.5],[2005.0,11.7],[2005.08,16.3],[2005.17,17.5],[2005.21,19.8],[2005.29,14],[2005.38,12.8],[2005.46,15.2],[2005.5,16.3],[2005.67,14],[2005.75,9.3],[2005.79,0],[2005.96,7],[2006.04,16.3],[2006.08,15.2],[2006.17,10.5],[2006.25,7],[2006.38,11.7],[2006.46,12.8],[2006.58,12.8],[2006.67,11.7],[2006.75,9.3],[2006.96,18.7],[2007.04,26.8],[2007.13,25.7],[2007.21,38.5],[2007.29,17.5],[2007.38,18.7],[2007.46,15.2],[2007.5,14],[2007.58,10.5],[2007.67,7],[2007.75,4.7],[2007.79,4.7],[2007.88,10.5],[2007.96,12.6],[2008.04,18.6],[2008.08,14.6],[2008.13,10.2],[2008.21,12.6],[2008.25,10.2],[2008.29,20.2],[2008.38,28.2],[2008.46,22.2],[2008.54,20.2],[2008.63,20.2],[2008.58,14.6],[2008.71,8.2],[2008.75,12.6],[2008.83,8.2],[2008.96,18.6],[2009.0,14.6],[2009.08,20.2],[2009.17,22.2],[2009.25,22.2],[2009.33,20.2],[2009.42,18.6],[2009.46,12.6],[2009.5,10.2],[2009.58,14.6],[2009.71,8.2],[2009.79,10.2],[2010.25,12.6],[2010.33,10.2],[2010.42,8.2],[2010.46,10.2],[2010.54,12.6],[2010.63,8.2],[2010.71,6.2],[2010.88,18.6],[2010.96,16.6],[2011.04,14.6],[2011.13,12.6],[2011.17,24.2],[2011.25,23.4],[2011.33,10.2],[2011.42,14.6],[2011.5,8.2],[2011.58,5.4]];

// ---------- panel layout ----------
const panels = [
  { sim: seinePhosSim, obs: seinePhosObs, ticks: phosTicks, top: 0.7, fmt: d => d === 0 ? "0" : d3.format(".1f")(d),
    label: variableLabels[0], left: 83, right: 602, bottom: 266.5, topY: 67, labelX: 31, labelY: 188 },
  { sim: seineSiSim, obs: seineSiObs, ticks: siliceTicks, top: 6, fmt: d3.format("d"),
    label: variableLabels[1], left: 82.7, right: 602.7, bottom: 593.3, topY: 305, labelX: 35, labelY: 447 },
  { sim: seineMesSim, obs: seineMesObs, ticks: mesTicks, top: 200, fmt: d3.format("d"),
    label: variableLabels[2], left: 81, right: 601, bottom: 926.7, topY: 638.3, labelX: 29, labelY: 785 },
  { sim: sommePhosSim, obs: sommePhosObs, ticks: phosTicks, top: 0.7, fmt: d => d === 0 ? "0" : d3.format(".1f")(d),
    label: variableLabels[0], left: 733.3, right: 1253, bottom: 266.7, topY: 66, labelX: 680, labelY: 199 },
  { sim: sommeSiSim, obs: [], ticks: siliceTicks, top: 6, fmt: d3.format("d"),
    label: variableLabels[1], left: 726, right: 1246, bottom: 600.7, topY: 311.7, labelX: 675, labelY: 458 },
  { sim: sommeMesSim, obs: sommeMesObs, ticks: mesTicks, top: 200, fmt: d3.format("d"),
    label: variableLabels[2], left: 731.7, right: 1254, bottom: 931.7, topY: 646, labelX: 677, labelY: 818 }
];

const svg = d3.select("#chart");
const FONT = "'Liberation Sans', Arial, Helvetica, sans-serif";
const AXIS_GREY = "#a3a3a3";

// slide frame lines behind the two station titles
const frame = svg.append("g").attr("fill", "none").attr("stroke", "#dcdcdc").attr("stroke-width", 1.4);
frame.append("path").attr("d", "M5,38H83V11H628V38H640");
frame.append("path").attr("d", "M641,41H655V38H723V11H1261");
frame.append("path").attr("d", "M655,41V958").attr("stroke", "#efefef");
frame.append("path").attr("d", "M7,300V640").attr("stroke", "#f2f2f2");

// station titles
stationNames.forEach((name, i) => {
  svg.append("text").attr("x", i === 0 ? 100 : 741).attr("y", 57).text(name)
    .attr("font-family", FONT).attr("font-size", 40).attr("fill", "#111")
    .attr("stroke", "#111").attr("stroke-width", 0.9).attr("paint-order", "stroke");
});

panels.forEach(p => {
  const x = d3.scaleLinear().domain([2002, 2015]).range([p.left, p.right]);
  const y = d3.scaleLinear().domain([0, p.top]).range([p.bottom, p.topY]);
  const g = svg.append("g");

  // x axis
  const xAxis = g.append("g").attr("transform", `translate(0,${p.bottom})`)
    .call(d3.axisBottom(x).tickValues(yearTicks).tickFormat(d3.format("d")).tickSize(5).tickSizeOuter(0).tickPadding(5));
  // y axis
  const yAxis = g.append("g").attr("transform", `translate(${p.left},0)`)
    .call(d3.axisLeft(y).tickValues(p.ticks).tickFormat(p.fmt).tickSize(5).tickSizeOuter(0).tickPadding(8));

  [xAxis, yAxis].forEach(a => {
    a.select(".domain").attr("stroke", AXIS_GREY).attr("stroke-width", 1.5);
    a.selectAll(".tick line").attr("stroke", AXIS_GREY).attr("stroke-width", 1.3);
    a.selectAll(".tick text").attr("font-family", FONT).attr("font-weight", "bold")
      .attr("font-size", 15).attr("fill", "#111");
  });

  // axis label
  g.append("text")
    .attr("transform", `translate(${p.labelX + 5},${p.labelY}) rotate(-90)`)
    .attr("text-anchor", "middle")
    .attr("font-family", FONT).attr("font-weight", "bold").attr("font-size", 15).attr("fill", "#111")
    .text(p.label);

  // simulated series
  const line = d3.line().x(d => x(d[0])).y(d => y(d[1]));
  g.append("path").datum(p.sim).attr("d", line)
    .attr("fill", "none").attr("stroke", "#1c1c1c").attr("stroke-width", 1.3).attr("stroke-linejoin", "round");

  // measured values
  g.append("g").selectAll("circle").data(p.obs).join("circle")
    .attr("cx", d => x(d[0])).attr("cy", d => y(d[1])).attr("r", 3.5)
    .attr("fill", "none").attr("stroke", "#2b2b2b").attr("stroke-width", 1.1);
});
</script>
</body>
</html>
